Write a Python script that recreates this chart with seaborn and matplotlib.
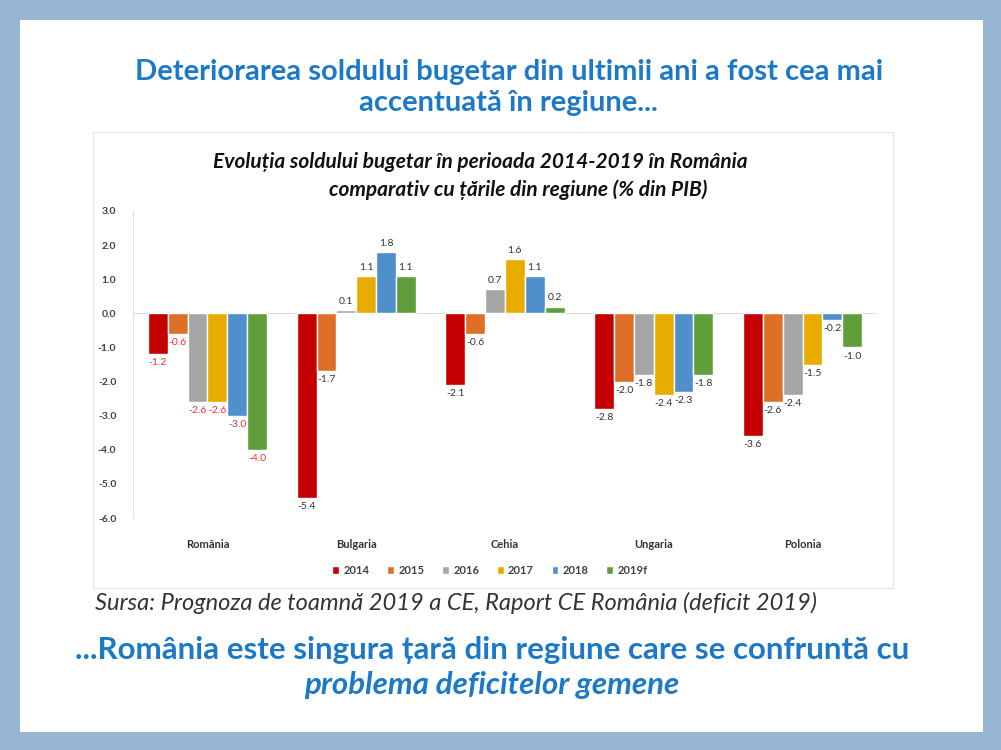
import numpy as np
import pandas as pd
import matplotlib
matplotlib.use("Agg")
import matplotlib.pyplot as plt
from matplotlib.patches import Rectangle
import seaborn as sns

# date
tari = ["România", "Bulgaria", "Cehia", "Ungaria", "Polonia"]
ani = ["2014", "2015", "2016", "2017", "2018", "2019f"]
v2014 = [-1.2, -5.4, -2.1, -2.8, -3.6]
v2015 = [-0.6, -1.7, -0.6, -2.0, -2.6]
v2016 = [-2.6, 0.1, 0.7, -1.8, -2.4]
v2017 = [-2.6, 1.1, 1.6, -2.4, -1.5]
v2018 = [-3.0, 1.8, 1.1, -2.3, -0.2]
v2019 = [-4.0, 1.1, 0.2, -1.8, -1.0]
culori = ["#c40000", "#dd6f26", "#a5a5a5", "#e8ab00", "#4f8fcb", "#5f9e3b"]

serii = [v2014, v2015, v2016, v2017, v2018, v2019]
df = pd.DataFrame([(t, a, s[i]) for a, s in zip(ani, serii) for i, t in enumerate(tari)],
                  columns=["tara", "an", "val"])

sns.set_style("white")
plt.rcParams['font.family'] = ['Lato', 'DejaVu Sans']

W, H = 1001, 750
fig = plt.figure(figsize=(W / 100, H / 100), dpi=100)
fig.patch.set_facecolor("#97b6d3")

def fx(px): return px / W
def fy(py): return 1 - py / H

# slide alb si chenarul graficului
fig.patches.append(Rectangle((fx(20), fy(732)), fx(963), (732 - 20) / H,
                             transform=fig.transFigure, facecolor="white", edgecolor="none", zorder=-2))
fig.patches.append(Rectangle((fx(93), fy(588)), fx(800), (588 - 132) / H,
                             transform=fig.transFigure, facecolor="white", edgecolor="#e3e3e3",
                             linewidth=0.8, zorder=-1))

ax = fig.add_axes([fx(133), fy(518), fx(877 - 133), (518 - 211) / H])
ax.set_zorder(2)
ax.set_facecolor("none")
sns.barplot(data=df, x="tara", y="val", hue="an", palette=culori, width=0.8,
            saturation=1, ax=ax, legend=True)

ax.set_ylim(-6, 3)
ax.set_yticks(np.arange(-6, 3.1, 1))
ax.set_yticklabels([f"{v:.1f}" for v in np.arange(-6, 3.1, 1)], fontsize=7.5,
                   fontweight="bold", color="#404040")
ax.set_xlabel("")
ax.set_ylabel("")
ax.tick_params(axis="x", length=0, pad=15, labelsize=8, labelcolor="#333333")
ax.tick_params(axis="y", length=0, pad=12)
for lb in ax.get_xticklabels():
    lb.set_fontweight("bold")
for s in ["top", "right", "bottom"]:
    ax.spines[s].set_visible(False)
ax.spines["left"].set_color("#e0e0e0")
ax.spines["left"].set_linewidth(0.8)
ax.axhline(0, color="#dcdcdc", lw=0.8, zorder=0)

for cont in ax.containers:
    txt = ax.bar_label(cont, fmt="%.1f", padding=3, fontsize=7.5, color="#333333")
    txt[0].set_color("#f03030")

leg = ax.legend(loc="center", bbox_to_anchor=(fx(490), fy(570)), bbox_transform=fig.transFigure,
                ncol=6, frameon=False, fontsize=8, handlelength=0.6, handleheight=0.7,
                handletextpad=0.4, columnspacing=1.6)
for t in leg.get_texts():
    t.set_fontweight("bold")
    t.set_color("#404040")

# texte
albastru = "#1c79c8"
fig.text(fx(509), fy(72), "Deteriorarea soldului bugetar din ultimii ani a fost cea mai",
         ha="center", va="center", fontsize=21, fontweight="bold", color=albastru)
fig.text(fx(508), fy(103), "accentuată în regiune...",
         ha="center", va="center", fontsize=21, fontweight="bold", color=albastru)
fig.text(fx(480), fy(162), "Evoluția soldului bugetar în perioada 2014-2019 în România",
         ha="center", va="center", fontsize=15, fontweight="bold", style="italic", color="#111111")
fig.text(fx(518), fy(190), "comparativ cu țările din regiune (% din PIB)",
         ha="center", va="center", fontsize=15, fontweight="bold", style="italic", color="#111111")
fig.text(fx(95), fy(603), "Sursa: Prognoza de toamnă 2019 a CE, Raport CE România (deficit 2019)",
         ha="left", va="center", fontsize=17, style="italic", color="#333333")
fig.text(fx(492), fy(650), "...România este singura țară din regiune care se confruntă cu",
         ha="center", va="center", fontsize=22.5, fontweight="bold", color=albastru)
fig.text(fx(492), fy(685), "problema deficitelor gemene",
         ha="center", va="center", fontsize=22.5, fontweight="bold", style="italic", color=albastru)

fig.savefig("out.png", dpi=100, facecolor=fig.get_facecolor())
